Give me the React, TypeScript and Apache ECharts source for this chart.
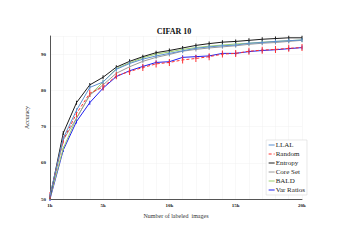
import React, { useEffect, useRef } from "react";
import * as echarts from "echarts";

const xs = [1, 2, 3, 4, 5, 6, 7, 8, 9, 10, 11, 12, 13, 14, 15, 16, 17, 18, 19, 20];
const xTickLabels: Record<number, string> = { 1: "1k", 5: "5k", 10: "10k", 15: "15k", 20: "20k" };
const seriesNames = ["LLAL", "Random", "Entropy", "Core Set", "BALD", "Var Ratios"];
const llal = [51, 66.8, 74.5, 80.8, 82.3, 85.8, 87.4, 88.6, 89.5, 90.2, 90.9, 91.6, 92.0, 92.3, 92.5, 93.0, 93.2, 93.5, 93.7, 93.9];
const random = [51, 66.3, 73.6, 79.2, 80.9, 84.0, 85.2, 86.3, 87.3, 87.7, 88.4, 88.8, 89.3, 90.0, 90.2, 90.8, 91.1, 91.3, 91.6, 91.8];
const entropy = [50.5, 68.2, 76.6, 81.5, 83.6, 86.4, 88.0, 89.3, 90.4, 91.0, 91.7, 92.4, 92.9, 93.3, 93.5, 93.8, 94.1, 94.3, 94.5, 94.5];
const coreSet = [50.5, 66.3, 72.3, 78.7, 81.5, 84.7, 86.5, 88.0, 89.1, 89.9, 90.8, 91.3, 91.7, 92.0, 92.3, 92.7, 93.0, 93.2, 93.5, 93.8];
const bald = [50.3, 64.0, 72.3, 78.7, 82.3, 86.0, 87.6, 89.0, 90.0, 90.6, 91.3, 91.8, 92.2, 92.5, 92.8, 93.0, 93.3, 93.5, 93.7, 93.9];
const varRatios = [50, 63.5, 71.4, 76.6, 80.6, 83.8, 85.4, 86.6, 87.7, 87.9, 89.1, 89.3, 89.5, 90.2, 90.2, 90.7, 91.0, 91.2, 91.5, 91.8];
const colors = ["#5b8fd0", "#ff3030", "#1a1a1a", "#9a9a9a", "#9ccf6e", "#1f1fee"];
const values = [llal, random, entropy, coreSet, bald, varRatios];

export default function App() {
  const ref = useRef<HTMLDivElement>(null);
  useEffect(() => {
    if (!ref.current) return;
    const chart = echarts.init(ref.current, null, { renderer: "svg" });
    const font = "'Liberation Serif', 'DejaVu Serif', serif";
    chart.setOption({
      animation: false,
      backgroundColor: "#ffffff",
      title: {
        text: "CIFAR 10",
        left: 169,
        top: 22,
        textAlign: "center",
        textStyle: { fontFamily: font, fontSize: 8, fontWeight: "bold", color: "#111" },
      },
      grid: { left: 50, right: 37, top: 36, bottom: 41 },
      legend: {
        orient: "vertical",
        right: 32,
        top: 140,
        itemWidth: 6,
        itemHeight: 2,
        itemGap: 1,
        padding: [1, 2, 1, 2],
        backgroundColor: "#ffffff",
        borderColor: "#d8d8d8",
        borderWidth: 0.6,
        itemStyle: { opacity: 0 },
        lineStyle: { width: 1 },
        textStyle: { fontFamily: font, fontSize: 7, lineHeight: 8, color: "#222", padding: [0, 0, 0, -4] },
        data: seriesNames,
      },
      xAxis: {
        type: "value",
        min: 1,
        max: 20,
        interval: 1,
        name: "Number of labeled  images",
        nameLocation: "middle",
        nameGap: 11,
        nameTextStyle: { fontFamily: font, fontSize: 6, color: "#333" },
        axisLine: { lineStyle: { color: "#555", width: 1 } },
        axisTick: { show: false },
        axisLabel: {
          fontFamily: font,
          fontSize: 5,
          fontWeight: "bold",
          color: "#222",
          margin: 4,
          formatter: (v: number) => xTickLabels[v] || "",
        },
        splitLine: { show: true, lineStyle: { color: "#f0f0f0", width: 0.5 } },
      },
      yAxis: {
        type: "value",
        min: 50,
        max: 95,
        interval: 10,
        name: "Accuracy",
        nameLocation: "middle",
        nameGap: 10,
        nameRotate: 90,
        nameTextStyle: { fontFamily: font, fontSize: 6, color: "#333" },
        axisLine: { show: true, lineStyle: { color: "#555", width: 1 } },
        axisTick: { show: false },
        axisLabel: {
          fontFamily: font,
          fontSize: 5,
          fontWeight: "bold",
          color: "#222",
          margin: 4,
          showMaxLabel: false,
        },
        splitLine: { show: true, lineStyle: { color: "#f0f0f0", width: 0.5 } },
      },
      series: seriesNames.map((name, i) => ({
        name,
        type: "line",
        data: xs.map((x, j) => [x, values[i][j]]),
        symbol: "rect",
        symbolSize: i === 1 ? [1, 7] : [1, 4],
        showSymbol: true,
        itemStyle: { color: colors[i] },
        lineStyle: { color: colors[i], width: 1, type: i === 1 ? [3, 2] : "solid" },
        z: 10 - i,
      })),
    });
    return () => chart.dispose();
  }, []);
  return <div ref={ref} style={{ position: "fixed", left: 0, top: 0, width: 339, height: 240 }} />;
}
